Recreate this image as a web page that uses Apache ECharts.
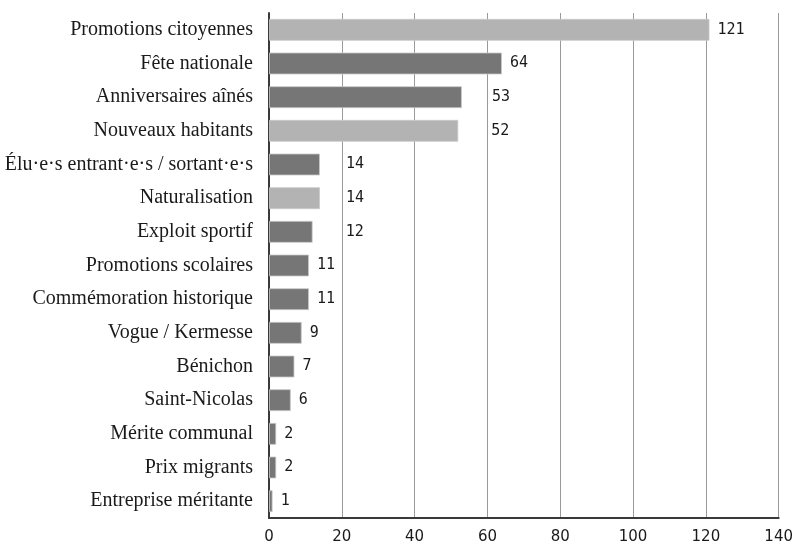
<!DOCTYPE html>
<html>
<head>
<meta charset="utf-8">
<script src="https://cdn.jsdelivr.net/npm/echarts@6/dist/echarts.min.js"></script>
<style>
  html, body { margin: 0; padding: 0; background: #fff; }
  #chart { width: 796px; height: 545px; }
</style>
</head>
<body>
<div id="chart"></div>
<script>
// Event types, listed top to bottom
const categories = [
  'Promotions citoyennes',
  'Fête nationale',
  'Anniversaires aînés',
  'Nouveaux habitants',
  'Élu·e·s entrant·e·s / sortant·e·s',
  'Naturalisation',
  'Exploit sportif',
  'Promotions scolaires',
  'Commémoration historique',
  'Vogue / Kermesse',
  'Bénichon',
  'Saint-Nicolas',
  'Mérite communal',
  'Prix migrants',
  'Entreprise méritante'
];
const counts = [121, 64, 53, 52, 14, 14, 12, 11, 11, 9, 7, 6, 2, 2, 1];
// Categories drawn in the lighter tone
const highlighted = ['Promotions citoyennes', 'Nouveaux habitants', 'Naturalisation'];
const xTicks = [0, 20, 40, 60, 80, 100, 120, 140];

// Extra horizontal shift (px) for a few value labels
const labelShift = {
  'Anniversaires aînés': 22,
  'Nouveaux habitants': 25,
  'Élu·e·s entrant·e·s / sortant·e·s': 18,
  'Naturalisation': 18,
  'Exploit sportif': 25
};

const DARK = '#767676';
const LIGHT = '#b3b3b3';

const barData = counts.map((v, i) => {
  const name = categories[i];
  const item = {
    value: v,
    itemStyle: { color: highlighted.includes(name) ? LIGHT : DARK }
  };
  if (labelShift[name]) {
    item.label = { offset: [labelShift[name], 0] };
  }
  return item;
});

const chart = echarts.init(document.getElementById('chart'), null, { renderer: 'canvas' });
chart.setOption({
  animation: false,
  backgroundColor: '#ffffff',
  grid: { left: 269, right: 17, top: 13, bottom: 27, containLabel: false },
  xAxis: {
    type: 'value',
    min: xTicks[0],
    max: xTicks[xTicks.length - 1],
    interval: xTicks[1] - xTicks[0],
    axisLine: { show: true, lineStyle: { color: '#3a3a3a', width: 2 } },
    axisTick: { show: false },
    splitLine: { show: true, lineStyle: { color: '#9a9a9a', width: 1 } },
    axisLabel: {
      color: '#1a1a1a',
      fontFamily: 'DejaVu Sans',
      fontSize: 15,
      margin: 12
    }
  },
  yAxis: {
    type: 'category',
    data: categories,
    inverse: true,
    axisLine: { show: true, lineStyle: { color: '#3a3a3a', width: 2 } },
    axisTick: { show: false },
    splitLine: { show: false },
    axisLabel: {
      color: '#1a1a1a',
      fontFamily: 'Liberation Serif',
      fontSize: 20,
      margin: 16
    }
  },
  series: [{
    type: 'bar',
    data: barData,
    barWidth: 22,
    itemStyle: { borderColor: 'rgba(200,200,200,0.8)', borderWidth: 1 },
    label: {
      show: true,
      position: 'right',
      distance: 8,
      color: '#1a1a1a',
      fontFamily: 'DejaVu Sans Mono',
      fontSize: 15
    }
  }]
});
</script>
</body>
</html>
